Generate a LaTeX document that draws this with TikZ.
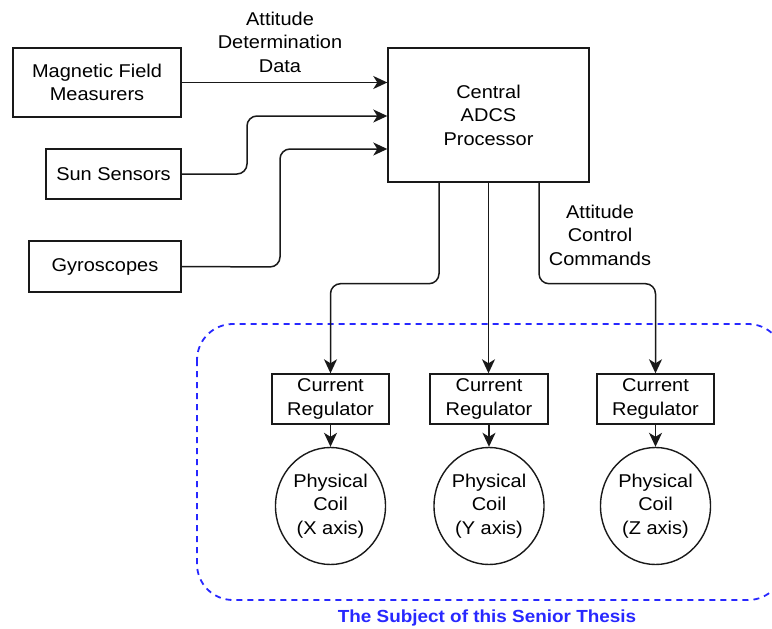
\documentclass[tikz,border=0pt]{standalone}
\usepackage{fontspec}
\setmainfont{Liberation Sans}[FakeStretch=1.08]
\usetikzlibrary{arrows.meta,shapes.geometric}
\definecolor{thesisblue}{RGB}{40,40,255}
\definecolor{edge}{RGB}{25,25,25}
\newcommand\mainsize{\fontsize{18.5}{23.5}\selectfont}
\tikzset{
  blk/.style={draw=edge, line width=1.4pt, inner sep=0pt, align=center, font=\mainsize},
  coilshape/.style={ellipse, draw=edge, line width=1.4pt, inner sep=0pt, align=center,
    font=\mainsize, minimum width=110pt, minimum height=117pt},
  conn/.style={line width=1.5pt, draw=edge, rounded corners=10pt,
    -{Stealth[length=14pt,width=13pt,inset=4pt]}},
  lbl/.style={align=center, font=\mainsize},
  frame/.style={draw=thesisblue, line width=1.8pt, dash pattern=on 6pt off 5pt, rounded corners=36pt}
}
\begin{document}
\begin{tikzpicture}[x=1pt,y=-1pt]
\clip (0,0) rectangle (772,629);
\fill[white] (0,0) rectangle (772,629);

% inputs
\node[blk, minimum width=168pt, minimum height=69pt] (mag) at (97,82.5) {Magnetic Field\\Measurers};
\node[blk, minimum width=135pt, minimum height=50pt] (sun) at (113.5,174) {Sun Sensors};
\node[blk, minimum width=152pt, minimum height=51pt] (gyro) at (105,266.5) {Gyroscopes};

% processor
\node[blk, minimum width=201pt, minimum height=134pt] (cpu) at (488.5,115) {Central\\ADCS\\Processor};

% regulators
\node[blk, minimum width=117pt, minimum height=50pt] (reg1) at (330.5,399) {Current\\Regulator};
\node[blk, minimum width=118pt, minimum height=50pt] (reg2) at (489,399) {Current\\Regulator};
\node[blk, minimum width=117pt, minimum height=50pt] (reg3) at (655.5,399) {Current\\Regulator};

% coils
\node[coilshape] (coil1) at (330.5,506) {Physical\\Coil\\(X axis)};
\node[coilshape] (coil2) at (489,506) {Physical\\Coil\\(Y axis)};
\node[coilshape] (coil3) at (655.5,506) {Physical\\Coil\\(Z axis)};

% labels
\node[lbl] (ladd) at (280,42) {Attitude\\Determination\\Data};
\node[lbl] (lacc) at (600,235) {Attitude\\Control\\Commands};

% frame
\draw[frame] (197,324) rectangle (784,600);
\node[font=\bfseries\fontsize{17.5}{21}\selectfont, text=thesisblue] (subj) at (487,618) {The Subject of this Senior Thesis};

% connectors in
\draw[conn] (mag.east) -- (mag.east -| cpu.west);
\draw[conn] (sun.east) -- (247,174) -- (247,116) -- ([yshift=-1pt]cpu.west);
\draw[conn] (gyro.east) -- (280,267) -- (280,149) -- ([yshift=-34pt]cpu.west);

% connectors out
\draw[conn] ([xshift=-49.5pt]cpu.south) -- ++(0,101) -| (reg1.north);
\draw[conn] (cpu.south) -- (cpu.south |- reg2.north);
\draw[conn] ([xshift=50.5pt]cpu.south) -- ++(0,101) -| (reg3.north);

\draw[conn] (reg1.south) -- (coil1.north);
\draw[conn] (reg2.south) -- (coil2.north);
\draw[conn] (reg3.south) -- (coil3.north);
\end{tikzpicture}
\end{document}
